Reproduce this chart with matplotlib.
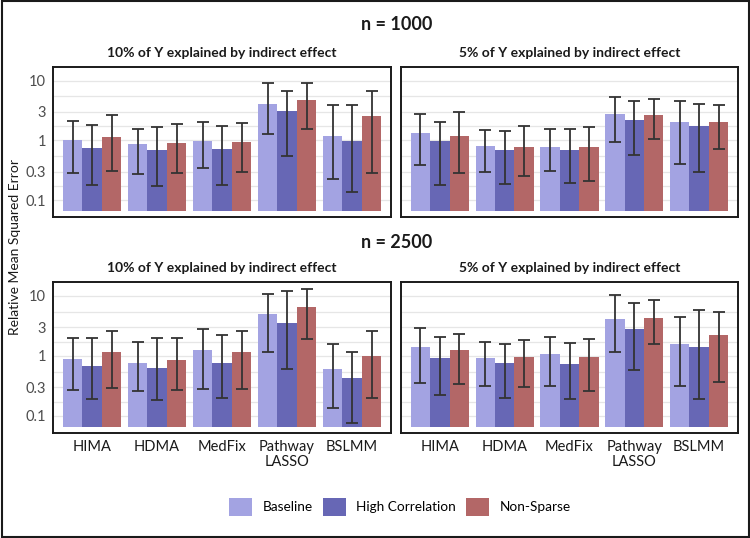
import matplotlib
matplotlib.use("Agg")
import matplotlib.pyplot as plt
from matplotlib.patches import Patch, Rectangle
import numpy as np

plt.rcParams['font.family'] = ['Lato', 'DejaVu Sans']

methods = ["HIMA", "HDMA", "MedFix", "Pathway\nLASSO", "BSLMM"]
scenarios = ["Baseline", "High Correlation", "Non-Sparse"]
colors = ["#A3A3E2", "#6767B5", "#B36767"]

# values per panel: [method][scenario]
n1000_10_mean = [[1.00, 0.74, 1.12], [0.86, 0.70, 0.91], [0.99, 0.73, 0.93], [4.12, 3.06, 4.68], [1.18, 0.96, 2.52]]
n1000_10_hi   = [[2.08, 1.78, 2.69], [1.55, 1.69, 1.88], [2.00, 1.74, 1.93], [9.0, 6.8, 9.0], [3.91, 3.86, 6.7]]
n1000_10_lo   = [[0.28, 0.18, 0.31], [0.27, 0.17, 0.28], [0.35, 0.18, 0.29], [1.26, 0.55, 1.55], [0.225, 0.135, 0.28]]

n1000_5_mean = [[1.33, 0.99, 1.20], [0.81, 0.68, 0.78], [0.79, 0.68, 0.78], [2.73, 2.16, 2.66], [2.05, 1.74, 2.03]]
n1000_5_hi   = [[2.73, 2.03, 2.98], [1.51, 1.43, 1.74], [1.57, 1.55, 1.65], [5.3, 4.5, 4.93], [4.56, 4.12, 3.91]]
n1000_5_lo   = [[0.39, 0.18, 0.28], [0.29, 0.185, 0.25], [0.31, 0.19, 0.21], [0.95, 0.57, 1.07], [0.40, 0.29, 0.73]]

n2500_10_mean = [[0.90, 0.68, 1.15], [0.75, 0.62, 0.86], [1.24, 0.77, 1.14], [5.0, 3.59, 6.56], [0.61, 0.435, 1.00]]
n2500_10_hi   = [[1.97, 1.97, 2.64], [1.71, 1.97, 1.97], [2.78, 2.24, 2.64], [10.8, 12.0, 13.2], [1.56, 1.18, 2.6]]
n2500_10_lo   = [[0.27, 0.19, 0.29], [0.26, 0.185, 0.27], [0.28, 0.197, 0.28], [1.18, 0.61, 1.92], [0.134, 0.076, 0.20]]

n2500_5_mean = [[1.39, 0.91, 1.23], [0.93, 0.75, 0.95], [1.08, 0.74, 0.95], [4.08, 2.78, 4.3], [1.55, 1.38, 2.27]]
n2500_5_hi   = [[2.97, 2.05, 2.33], [1.71, 1.58, 1.82], [2.10, 1.67, 1.92], [10.5, 7.6, 8.6], [4.41, 5.84, 5.41]]
n2500_5_lo   = [[0.36, 0.224, 0.34], [0.32, 0.20, 0.30], [0.31, 0.19, 0.26], [1.14, 0.59, 1.55], [0.32, 0.19, 0.37]]

panel_titles = ["10% of Y explained by indirect effect", "5% of Y explained by indirect effect"]
row_titles = ["n = 1000", "n = 2500"]
yticks = [0.1, 0.3, 1, 3, 10]
ytick_labels = ["0.1", "0.3", "1", "3", "10"]

W, H = 750, 538
fig = plt.figure(figsize=(W / 100, H / 100), dpi=100)

def ax_rect(x0, y0, x1, y1):
    return [x0 / W, 1 - y1 / H, (x1 - x0) / W, (y1 - y0) / H]

panels = [
    (ax_rect(53, 67, 391, 217), n1000_10_mean, n1000_10_lo, n1000_10_hi, True, False),
    (ax_rect(401, 67, 738, 217), n1000_5_mean, n1000_5_lo, n1000_5_hi, False, False),
    (ax_rect(53, 282, 391, 433), n2500_10_mean, n2500_10_lo, n2500_10_hi, True, True),
    (ax_rect(401, 282, 738, 433), n2500_5_mean, n2500_5_lo, n2500_5_hi, False, True),
]

base = 0.065
ylo, yhi = 0.052, 17.0
x = np.arange(1, len(methods) + 1)
bw = 0.3
minor = [np.sqrt(yticks[i] * yticks[i + 1]) for i in range(len(yticks) - 1)]

for i, (rect, mean, lo, hi, showy, showx) in enumerate(panels):
    ax = fig.add_axes(rect)
    ax.set_yscale('log')
    ax.set_ylim(ylo, yhi)
    ax.set_xlim(0.4, 5.6)
    for g in yticks + minor:
        ax.axhline(g, color="#E6E6E6", lw=0.9, zorder=0)
    mean = np.array(mean)
    lo = np.array(lo)
    hi = np.array(hi)
    for s in range(3):
        xs = x + (s - 1) * bw
        ax.bar(xs, mean[:, s] - base, bottom=base, width=bw, color=colors[s],
               edgecolor='none', zorder=2)
        ax.errorbar(xs, mean[:, s], yerr=[mean[:, s] - lo[:, s], hi[:, s] - mean[:, s]],
                    fmt='none', ecolor="#333333", elinewidth=1.3, capsize=4.0,
                    capthick=1.3, zorder=3)
    ax.set_yticks(yticks)
    ax.yaxis.set_minor_locator(matplotlib.ticker.NullLocator())
    if showy:
        ax.set_yticklabels(ytick_labels, fontsize=10.5, color="#4D4D4D")
    else:
        ax.set_yticklabels([])
    ax.set_xticks(x)
    if showx:
        ax.set_xticklabels(methods, fontsize=10.5, color="#1A1A1A", linespacing=1.1)
    else:
        ax.set_xticklabels([])
    ax.tick_params(length=0, pad=5)
    for sp in ax.spines.values():
        sp.set_linewidth(1.4)
        sp.set_color("#1A1A1A")
    ax.set_title(panel_titles[i % 2], fontsize=10, fontweight='bold', pad=7, color="#1A1A1A")

fig.text(397 / W, 1 - 25 / H, row_titles[0], ha='center', va='center', fontsize=13, fontweight='bold', color="#1A1A1A")
fig.text(397 / W, 1 - 242 / H, row_titles[1], ha='center', va='center', fontsize=13, fontweight='bold', color="#1A1A1A")
fig.text(15 / W, 1 - 247 / H, "Relative Mean Squared Error", rotation=90, ha='center', va='center',
         fontsize=10, color="#1A1A1A")

handles = [Patch(facecolor=c, edgecolor='none') for c in colors]
fig.legend(handles, scenarios, loc='center', bbox_to_anchor=(400 / W, 1 - 507 / H), ncol=3,
           frameon=False, fontsize=9.8, handlelength=1.7, handleheight=1.7,
           handletextpad=0.75, columnspacing=0.75)

fig.patches.append(Rectangle((0.002, 0.002), 0.996, 0.996, transform=fig.transFigure,
                             fill=False, edgecolor="#1A1A1A", lw=1.5))

fig.savefig("out.png", dpi=100)
